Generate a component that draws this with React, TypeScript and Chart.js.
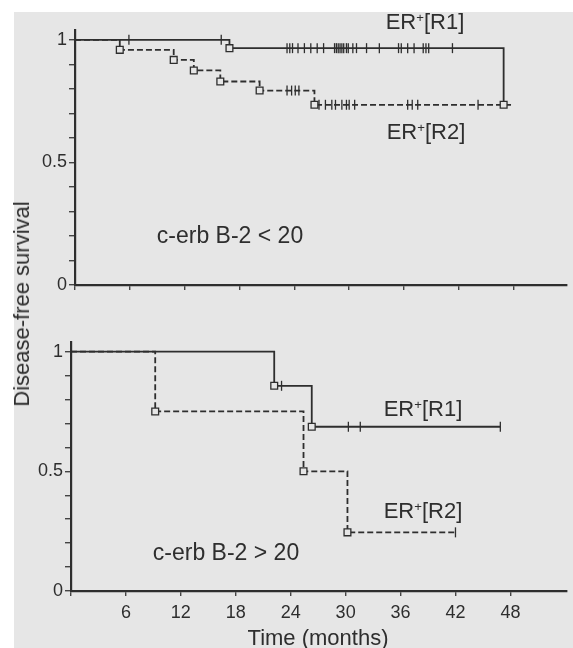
import React, { useEffect, useRef } from 'react';
import { Chart, registerables } from 'chart.js';

Chart.register(...registerables);

// ---------- data ----------
const monthTicks = [0, 6, 12, 18, 24, 30, 36, 42, 48];
const monthLabels = ['', '6', '12', '18', '24', '30', '36', '42', '48'];
const yTickValues = [0, 0.1, 0.2, 0.3, 0.4, 0.5, 0.6, 0.7, 0.8, 0.9, 1];
const yLabelValues = [0, 0.5, 1];
const yLabelTexts = ['0', '0.5', '1'];

// Top panel: c-erb B-2 < 20
const topR1Times = [0, 16.9, 46.9];
const topR1Surv = [1, 0.966, 0.735];
const topR1End = 46.9;
const topR1Censor = [5.9, 16.0, 23.2, 23.5, 23.8, 24.4, 25.1, 25.8, 26.5, 27.2, 28.4, 28.6, 28.8, 29.0, 29.2, 29.4, 29.7, 29.9, 30.4, 30.8, 31.9, 33.3, 35.4, 35.7, 36.4, 37.1, 38.1, 38.4, 38.7, 41.3];
const topR2Times = [0, 4.9, 10.8, 13.0, 15.9, 20.2, 26.2];
const topR2Surv = [1, 0.959, 0.918, 0.875, 0.83, 0.793, 0.735];
const topR2End = 48;
const topR2Censor = [23.2, 23.7, 24.1, 24.5, 26.7, 27.4, 28.1, 28.5, 29.2, 29.7, 30.0, 30.6, 36.4, 36.9, 37.5, 44.1];

// Bottom panel: c-erb B-2 > 20
const botR1Times = [0, 22.2, 26.3];
const botR1Surv = [1, 0.857, 0.686];
const botR1End = 46.9;
const botR1Censor = [23.0, 30.3, 31.6, 46.9];
const botR2Times = [0, 9.2, 25.4, 30.2];
const botR2Surv = [1, 0.75, 0.5, 0.245];
const botR2End = 42;
const botR2Censor = [42];

// ---------- styling ----------
const BG = '#e6e6e6';
const INK = '#2e2e2e';
const FONT = "'Liberation Sans', Arial, Helvetica, sans-serif";

function survAt(times: number[], surv: number[], t: number) {
  let v = surv[0];
  for (let i = 0; i < times.length; i++) if (times[i] <= t) v = surv[i];
  return v;
}
function stepPoints(times: number[], surv: number[], end: number) {
  const pts = times.map((t, i) => ({ x: t, y: surv[i] }));
  if (end > times[times.length - 1]) pts.push({ x: end, y: surv[surv.length - 1] });
  return pts;
}
function boxPoints(times: number[], surv: number[]) {
  return times.slice(1).map((t, i) => ({ x: t, y: surv[i + 1] }));
}
function censorPoints(times: number[], surv: number[], cens: number[]) {
  return cens.map((t) => ({ x: t, y: survAt(times, surv, t) }));
}

type Panel = {
  r1T: number[]; r1S: number[]; r1E: number; r1C: number[];
  r2T: number[]; r2S: number[]; r2E: number; r2C: number[];
  xMax: number; left: number; top: number; xAxisH: number; showX: boolean;
};

function makeChart(canvas: HTMLCanvasElement, p: Panel) {
  const lineBase = { borderColor: INK, borderWidth: 1.8, pointRadius: 0, fill: false, stepped: 'before' as const, tension: 0, clip: false as any, order: 3 };
  const boxBase = { type: 'scatter' as const, pointStyle: 'rect', pointRadius: 4.8, backgroundColor: BG, borderColor: INK, borderWidth: 1.3, showLine: false, clip: false as any, order: 0 };
  const censBase = { type: 'scatter' as const, pointStyle: 'line', rotation: 90, pointRadius: 5, borderColor: INK, borderWidth: 1.3, showLine: false, clip: false as any, order: 1 };
  return new Chart(canvas, {
    type: 'line',
    data: {
      datasets: [
        { ...lineBase, label: 'R1', data: stepPoints(p.r1T, p.r1S, p.r1E) },
        { ...lineBase, label: 'R2', borderDash: [6, 3], data: stepPoints(p.r2T, p.r2S, p.r2E) },
        { ...boxBase, label: 'R1 events', data: boxPoints(p.r1T, p.r1S) } as any,
        { ...boxBase, label: 'R2 events', data: boxPoints(p.r2T, p.r2S) } as any,
        { ...censBase, label: 'R1 censored', data: censorPoints(p.r1T, p.r1S, p.r1C) } as any,
        { ...censBase, label: 'R2 censored', data: censorPoints(p.r2T, p.r2S, p.r2C) } as any,
      ],
    },
    options: {
      responsive: false,
      animation: false,
      events: [],
      layout: { padding: { top: p.top, left: 0, right: 0, bottom: 0 } },
      plugins: { legend: { display: false }, tooltip: { enabled: false }, title: { display: false } },
      scales: {
        x: {
          type: 'linear',
          min: 0,
          max: p.xMax,
          afterBuildTicks: (s: any) => { s.ticks = monthTicks.map((v) => ({ value: v })); },
          afterFit: (s: any) => { s.height = p.xAxisH; },
          ticks: {
            padding: 6,
            color: INK,
            font: { family: FONT, size: 18 },
            maxRotation: 0,
            autoSkip: false,
            callback: (v: any) => {
              if (!p.showX) return '';
              const i = monthTicks.indexOf(Number(v));
              return i >= 0 ? monthLabels[i] : '';
            },
          },
          grid: { drawOnChartArea: false, drawTicks: true, tickLength: 5, color: '#444', lineWidth: 1.4 },
          border: { display: true, color: INK, width: 2.2 },
        },
        y: {
          type: 'linear',
          min: 0,
          max: 1.04,
          afterBuildTicks: (s: any) => { s.ticks = yTickValues.map((v) => ({ value: v })); },
          afterFit: (s: any) => { s.width = p.left; },
          ticks: {
            padding: 2,
            color: INK,
            font: { family: FONT, size: 18 },
            autoSkip: false,
            callback: (v: any) => {
              const n = Number(v);
              for (let i = 0; i < yLabelValues.length; i++) if (Math.abs(yLabelValues[i] - n) < 1e-6) return yLabelTexts[i];
              return '';
            },
          },
          grid: { drawOnChartArea: false, drawTicks: true, tickLength: 6, color: '#444', lineWidth: 1.4 },
          border: { display: true, color: INK, width: 2.2 },
        },
      },
    } as any,
  });
}

const topPanel: Panel = {
  r1T: topR1Times, r1S: topR1Surv, r1E: topR1End, r1C: topR1Censor,
  r2T: topR2Times, r2S: topR2Surv, r2E: topR2End, r2C: topR2Censor,
  xMax: 53.8, left: 75, top: 30, xAxisH: 648 - 285, showX: false,
};
const botPanel: Panel = {
  r1T: botR1Times, r1S: botR1Surv, r1E: botR1End, r1C: botR1Censor,
  r2T: botR2Times, r2S: botR2Surv, r2E: botR2End, r2C: botR2Censor,
  xMax: 54.15, left: 71, top: 342, xAxisH: 648 - 591, showX: true,
};

function Label({ x, y, children, size = 22 }: { x: number; y: number; children: React.ReactNode; size?: number }) {
  return (
    <div
      style={{
        position: 'absolute', left: x, top: y, transform: 'translate(-50%, -50%)',
        fontFamily: FONT, fontSize: size, color: INK, whiteSpace: 'nowrap', lineHeight: 1,
      }}
    >
      {children}
    </div>
  );
}

function ER({ r }: { r: string }) {
  return (
    <span>
      ER<sup style={{ fontSize: '0.6em', verticalAlign: '0.55em', lineHeight: 0 }}>+</sup>[{r}]
    </span>
  );
}

export default function App() {
  const topRef = useRef<HTMLCanvasElement>(null);
  const botRef = useRef<HTMLCanvasElement>(null);
  useEffect(() => {
    const a = makeChart(topRef.current!, topPanel);
    const b = makeChart(botRef.current!, botPanel);
    return () => { a.destroy(); b.destroy(); };
  }, []);
  return (
    <div style={{ position: 'absolute', left: 0, top: 0, width: 573, height: 648, background: '#ffffff', overflow: 'hidden' }}>
      <div style={{ position: 'absolute', left: 14, top: 12, right: 0, bottom: 0, background: BG }} />
      <canvas ref={topRef} width={573} height={648} style={{ position: 'absolute', left: 0, top: 0 }} />
      <canvas ref={botRef} width={573} height={648} style={{ position: 'absolute', left: 0, top: 0 }} />
      <Label x={425} y={22}><ER r="R1" /></Label>
      <Label x={426} y={132}><ER r="R2" /></Label>
      <Label x={230} y={235} size={23}>c-erb B-2 &lt; 20</Label>
      <Label x={423} y={409}><ER r="R1" /></Label>
      <Label x={423} y={511}><ER r="R2" /></Label>
      <Label x={226} y={552} size={23}>c-erb B-2 &gt; 20</Label>
      <div
        style={{
          position: 'absolute', left: 22, top: 304, transform: 'translate(-50%, -50%) rotate(-90deg)',
          fontFamily: FONT, fontSize: 22, color: INK, whiteSpace: 'nowrap', lineHeight: 1,
        }}
      >
        Disease-free survival
      </div>
      <Label x={318} y={638}>Time (months)</Label>
    </div>
  );
}
